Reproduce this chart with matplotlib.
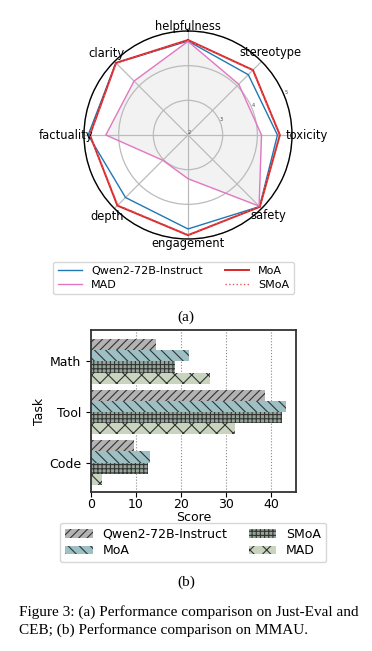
import numpy as np
import matplotlib
matplotlib.use('Agg')
import matplotlib.pyplot as plt

plt.rcParams['hatch.linewidth'] = 0.8

# radar data (Just-Eval + CEB)
dims = ['helpfulness', 'stereotype', 'toxicity', 'safety',
        'engagement', 'depth', 'factuality', 'clarity']
qwen_r = [4.71, 4.46, 4.58, 4.92, 4.71, 4.55, 4.88, 4.94]
moa_r = [4.74, 4.65, 4.65, 4.93, 4.89, 4.88, 4.83, 4.94]
smoa_r = [4.73, 4.64, 4.64, 4.92, 4.88, 4.86, 4.83, 4.93]
mad_r = [4.70, 4.07, 4.12, 4.90, 3.26, 3.03, 4.37, 4.20]

# bar data (MMAU)
tasks = ['Math', 'Tool', 'Code']
models = ['Qwen2-72B-Instruct', 'MoA', 'SMoA', 'MAD']
qwen_b = [14.4, 38.7, 9.6]
moa_b = [21.8, 43.3, 13.0]
smoa_b = [18.7, 42.4, 12.6]
mad_b = [26.5, 31.9, 2.5]

W, H = 372, 651
fig = plt.figure(figsize=(W / 100, H / 100), dpi=100)

# ---- (a) radar ----
ax = fig.add_axes([(188 - 104) / W, 1 - (135 + 104) / H, 208 / W, 208 / H], polar=True)
ax.set_theta_offset(np.pi / 2)
ax.set_theta_direction(-1)
ang = np.linspace(0, 2 * np.pi, len(dims), endpoint=False)
ang_c = np.append(ang, ang[0])

def closed(v):
    return np.append(v, v[0])

ax.fill(ang_c, closed(mad_r), color='#f2f2f2', zorder=1)
l1, = ax.plot(ang_c, closed(qwen_r), color='#1f77b4', lw=1.0, label='Qwen2-72B-Instruct', zorder=3)
l2, = ax.plot(ang_c, closed(moa_r), color='#d62728', lw=1.4, label='MoA', zorder=3)
l3, = ax.plot(ang_c, closed(smoa_r), color='#e8585a', lw=1.0, ls=':', label='SMoA', zorder=4)
l4, = ax.plot(ang_c, closed(mad_r), color='#e377c2', lw=1.0, label='MAD', zorder=3)

ax.set_ylim(2, 5)
ax.set_yticks([2, 3, 4, 5])
ax.set_yticklabels(['2', '3', '4', '5'], fontsize=3.5, color='#444444')
ax.set_rlabel_position(67.5)
ax.set_xticks(ang)
ax.set_xticklabels([])
# category labels, sitting close to the outer circle
label_r = [5.14, 5.37, 5.42, 5.27, 5.14, 5.31, 5.52, 5.31]
for a, name, rr in zip(ang, dims, label_r):
    ax.text(a, rr, name, fontsize=8.3, ha='center', va='center', clip_on=False)
ax.grid(color='#bbbbbb', lw=0.9)
ax.spines['polar'].set_color('black')
ax.spines['polar'].set_linewidth(1.0)

fig.legend(handles=[l1, l4, l2, l3], loc='center', ncol=2,
           bbox_to_anchor=(173.5 / W, 1 - 278 / H), fontsize=8,
           handlelength=2.2, columnspacing=2.0, frameon=True,
           borderpad=0.4, labelspacing=0.3)

fig.text(186 / W, 1 - 317 / H, '(a)', fontsize=11, family='Liberation Serif',
         ha='center', va='center')

# ---- (b) bars ----
bx = fig.add_axes([91 / W, 1 - 492 / H, 205 / W, 162 / H])
y = np.arange(len(tasks))
h = 0.222
styles = [
    (qwen_b, '#b3b3b3', '////'),
    (moa_b, '#9dc0c5', '\\\\\\'),
    (smoa_b, '#93a596', '++++'),
    (mad_b, '#c8d4be', 'xx'),
]
for i, (vals, col, hat) in enumerate(styles):
    bx.barh(y + (i - 1.5) * h, vals, height=h, color=col, hatch=hat,
            edgecolor='#333333', lw=0, label=models[i], zorder=2)

bx.set_yticks(y)
bx.set_yticklabels(tasks, fontsize=9)
bx.set_ylim(2.58, -0.62)
bx.set_xticks([0, 10, 20, 30, 40])
bx.tick_params(axis='x', labelsize=9, pad=1)
bx.set_xlabel('Score', fontsize=9, labelpad=0)
bx.set_ylabel('Task', fontsize=9, labelpad=2)
bx.xaxis.grid(True, ls=':', color='#888888', lw=0.8)
bx.set_axisbelow(True)
for s in bx.spines.values():
    s.set_linewidth(1.3)
    s.set_color('#333333')

bx.legend(loc='center', ncol=2, bbox_to_anchor=(193 / W, 1 - 542.5 / H),
          bbox_transform=fig.transFigure, fontsize=9, handlelength=2.2,
          columnspacing=1.7, borderpad=0.4, labelspacing=0.3)

fig.text(186 / W, 1 - 582 / H, '(b)', fontsize=11, family='Liberation Serif',
         ha='center', va='center')

fig.text(19 / W, 1 - 612 / H, 'Figure 3: (a) Performance comparison on Just-Eval and',
         fontsize=11, family='Liberation Serif', ha='left', va='center')
fig.text(19 / W, 1 - 630 / H, 'CEB; (b) Performance comparison on MMAU.',
         fontsize=11, family='Liberation Serif', ha='left', va='center')

fig.savefig('out.png', dpi=100)
